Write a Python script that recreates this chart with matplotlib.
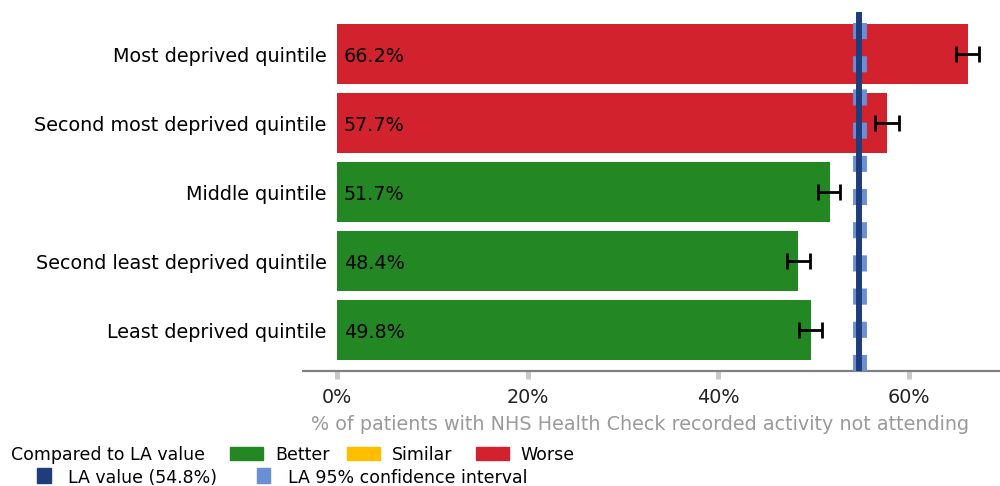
import matplotlib
matplotlib.use("Agg")

import matplotlib.pyplot as plt
from matplotlib.patches import Rectangle

plt.rcParams['font.family'] = ['DejaVu Sans']

# data
categories = ["Most deprived quintile", "Second most deprived quintile",
              "Middle quintile", "Second least deprived quintile",
              "Least deprived quintile"]
values = [66.2, 57.7, 51.7, 48.4, 49.8]
ci_low = [65.0, 56.5, 50.5, 47.2, 48.5]
ci_high = [67.4, 59.0, 52.8, 49.6, 50.9]
comparison = ["Worse", "Worse", "Better", "Better", "Better"]
la_value = 54.8
la_ci = (54.1, 55.6)
xticks = [0, 20, 40, 60]

colours = {"Better": "#238823", "Similar": "#ffbf00", "Worse": "#d2222d"}
navy = "#1f3d7a"
light_blue = "#6a8fd4"
FS = 13.8
LFS = 12.5

W, H = 1000, 486
fig = plt.figure(figsize=(W / 100, H / 100), dpi=100)
ax = fig.add_axes([303 / W, 1 - 371 / H, (W - 303) / W, (371 - 12) / H])

ypos = list(range(len(categories)))
bar_cols = [colours[c] for c in comparison]
ax.barh(ypos, values, height=0.87, color=bar_cols, zorder=2)

err_lo = [v - l for v, l in zip(values, ci_low)]
err_hi = [h - v for v, h in zip(values, ci_high)]
ax.errorbar(values, ypos, xerr=[err_lo, err_hi], fmt="none", ecolor="black",
            elinewidth=2, capsize=6, capthick=2, zorder=4)

for y, v in zip(ypos, values):
    ax.text(0.7, y, f"{v:.1f}%", va="center_baseline", ha="left", fontsize=FS,
            color="black", zorder=5)

# LA confidence interval (dashed band) and LA value line
ax.axvline((la_ci[0] + la_ci[1]) / 2, ymin=0.969, ymax=0, color=light_blue,
           linewidth=10, dashes=(1.16, 1.23), zorder=3)
ax.axvline(la_value, ymin=0, ymax=1, color=navy, linewidth=4.3, zorder=3)

ax.set_xlim(-3.6, 69.6)
ax.set_ylim(len(categories) - 1 + 0.59, -0.61)
ax.set_yticks(ypos)
ax.set_yticklabels(categories, fontsize=FS)
ax.set_xticks(xticks)
ax.set_xticklabels([f"{t}%" for t in xticks], fontsize=FS, color="#222222")
ax.tick_params(axis="x", length=6, width=3.5, color="#c8c8c8", pad=6)
ax.tick_params(axis="y", length=4, width=1, color="#bbbbbb", pad=-21)
for lab in ax.get_yticklabels():
    lab.set_zorder(6)

for s in ["top", "right", "left"]:
    ax.spines[s].set_visible(False)
ax.spines["bottom"].set_color("#808080")
ax.spines["bottom"].set_linewidth(1.6)
ax.set_xlabel("% of patients with NHS Health Check recorded activity not attending",
              fontsize=FS, color="#9a9a9a")
ax.xaxis.set_label_coords((640 - 303) / (W - 303), -(415 - 371) / (371 - 12))


# legend drawn in figure pixels
def fx(px):
    return px / W


def fy(py):
    return 1 - py / H


row1, row2 = 453, 476
fig.text(fx(11), fy(row1), "Compared to LA value", fontsize=LFS,
         va="center_baseline")
for x0, x1, tx, label in [(230, 263, 275, "Better"), (347, 380, 392, "Similar"),
                          (476, 509, 520, "Worse")]:
    fig.add_artist(Rectangle((fx(x0), fy(460)), fx(x1 - x0), 13 / H,
                             transform=fig.transFigure, color=colours[label]))
    fig.text(fx(tx), fy(row1), label, fontsize=LFS, va="center_baseline")

fig.add_artist(Rectangle((fx(37), fy(483)), fx(14), 15 / H,
                         transform=fig.transFigure, color=navy))
fig.text(fx(68), fy(row2), f"LA value ({la_value}%)", fontsize=LFS,
         va="center_baseline")
fig.add_artist(Rectangle((fx(257), fy(483)), fx(13), 15 / H,
                         transform=fig.transFigure, color=light_blue))
fig.text(fx(288), fy(row2), "LA 95% confidence interval", fontsize=LFS,
         va="center_baseline")

fig.savefig("out.png", dpi=100)
